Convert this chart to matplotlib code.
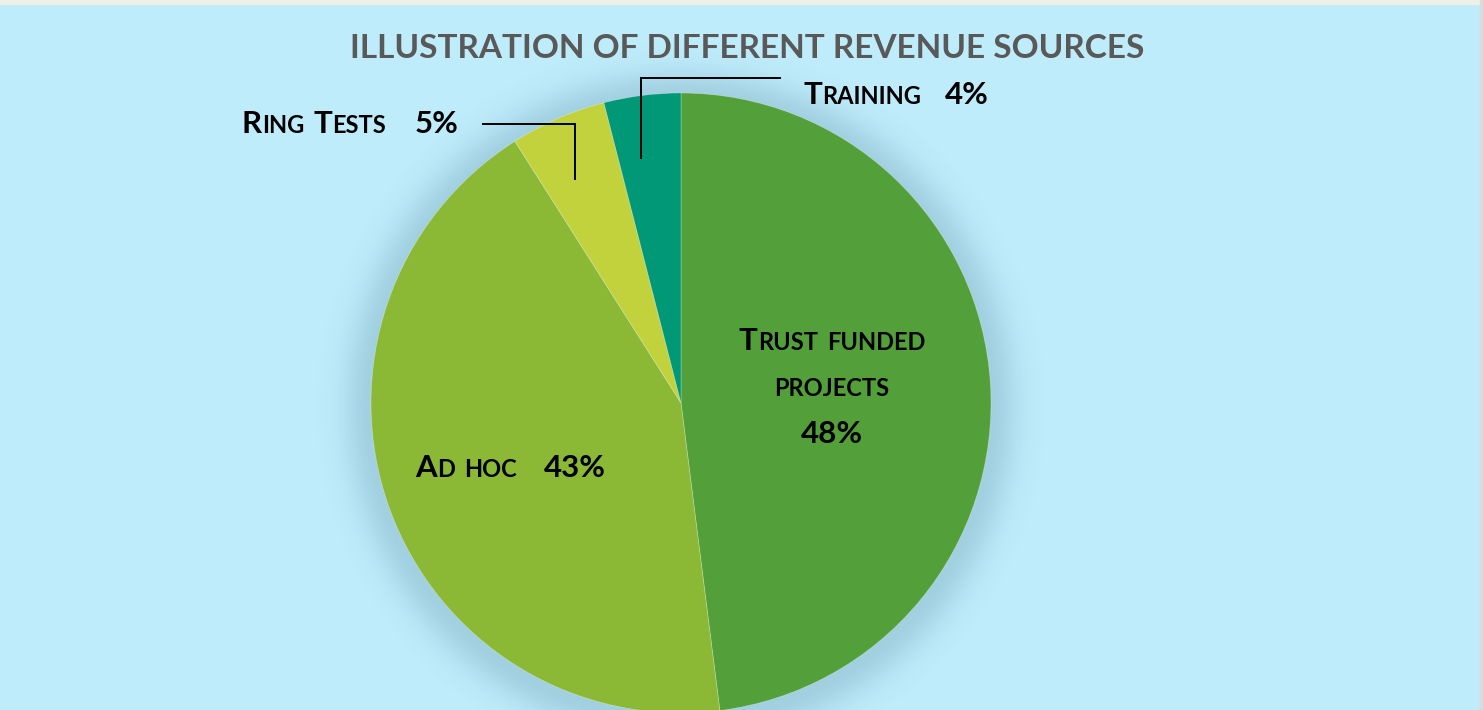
import numpy as np
import matplotlib
matplotlib.use("Agg")
import matplotlib.pyplot as plt

W, H = 1483, 710

categories = ["Trust funded projects", "Ad hoc", "Ring Tests", "Training"]
values = [48, 43, 5, 4]
colors = ["#53A03A", "#8CB935", "#C1D23C", "#009877"]
title = "ILLUSTRATION OF DIFFERENT REVENUE SOURCES"

FONT = "Lato"
BIG = 22.5
SMALL = 17
BG = "#BFECFB"

fig = plt.figure(figsize=(W / 100, H / 100), dpi=100, facecolor=BG)
ax = fig.add_axes([0, 0, 1, 1])
ax.set_facecolor(BG)

cx, cy, R = 681, H - 403, 310

# soft shadow/glow behind the pie
gx = np.arange(cx - R - 70, cx + R + 70)
gy = np.arange(cy - R - 70, cy + R + 70)
XX, YY = np.meshgrid(gx, gy)
dist = np.hypot(XX - cx, YY - (cy - 4)) - R
alpha = np.where(dist > 0, 0.2 * np.exp(-(dist / 28.0) ** 2), 0.2)
shadow = np.zeros(XX.shape + (4,))
shadow[..., 0] = 40 / 255
shadow[..., 1] = 95 / 255
shadow[..., 2] = 120 / 255
shadow[..., 3] = alpha
ax.imshow(shadow, extent=(gx[0], gx[-1], gy[0], gy[-1]), origin="lower",
          zorder=0, interpolation="bilinear")

wedges, _ = ax.pie(values, colors=colors, startangle=90, counterclock=False,
                   center=(cx, cy), radius=R,
                   wedgeprops=dict(edgecolor=(1, 1, 1, 0.35), linewidth=0.5))
for w in wedges:
    w.set_zorder(2)

ax.set_xlim(0, W)
ax.set_ylim(0, H)
ax.set_aspect("auto")
ax.axis("off")

# top strip and right edge like the original frame
ax.axhspan(H - 4, H, color="#EEEFE6", zorder=5)
ax.axvspan(W - 3, W, color="#D8DCDC", zorder=5)

renderer = fig.canvas.get_renderer()


def small_caps_runs(label):
    runs = []
    for word in label.split(" "):
        parts = []
        for ch in word:
            size = BIG if ch.isupper() or ch.isdigit() or ch == "%" else SMALL
            if parts and parts[-1][1] == size:
                parts[-1][0] += ch.upper()
            else:
                parts.append([ch.upper(), size])
        runs.append(parts)
    return runs


def draw_line(x, y, words, ha="left", gaps=None):
    # words: list of word runs; gaps: pixel gap after each word
    if gaps is None:
        gaps = [9] * len(words)
    items = []
    total = 0
    for i, word in enumerate(words):
        for s, fs in word:
            t = ax.text(0, y, s, fontsize=fs, fontweight="bold", family=FONT,
                        va="baseline", ha="left", color="black", zorder=6)
            wdt = t.get_window_extent(renderer).width
            items.append((t, total))
            total += wdt
        if i < len(words) - 1:
            total += gaps[i]
    x0 = x - total / 2 if ha == "center" else x
    for t, off in items:
        t.set_x(x0 + off)


total = sum(values)
pcts = [f"{v / total * 100:.0f}%" for v in values]
runs = [small_caps_runs(c) for c in categories]

# Trust funded projects (inside, three lines)
draw_line(832, H - 350, runs[0][:2], ha="center")
draw_line(832, H - 396, runs[0][2:], ha="center")
draw_line(832, H - 443, [[[pcts[0], BIG]]], ha="center")

# Ad hoc (inside)
draw_line(415, H - 477, runs[1] + [[[pcts[1], BIG]]], gaps=[9, 27])

# Ring Tests (outside, left)
draw_line(242, H - 133, runs[2] + [[[pcts[2], BIG]]], gaps=[9, 29])

# Training (outside, right)
draw_line(803, H - 104, runs[3] + [[[pcts[3], BIG]]], gaps=[24])


# leader lines from wedge interior
def leader(wedge, elbow_y, end_x):
    mid = np.deg2rad((wedge.theta1 + wedge.theta2) / 2 + 2)
    sx = cx + 0.8 * R * np.cos(mid)
    sy = cy + 0.8 * R * np.sin(mid)
    ax.plot([sx, sx, end_x], [sy, elbow_y, elbow_y], color="black", lw=1.4,
            zorder=4, solid_joinstyle="miter")


leader(wedges[2], H - 124, 483)
leader(wedges[3], H - 78, 780)

ax.text(747, H - 58, title, fontsize=24, fontweight="bold", family=FONT,
        color="#595959", ha="center", va="baseline", zorder=6)

fig.savefig("out.png", dpi=100, facecolor=BG)
